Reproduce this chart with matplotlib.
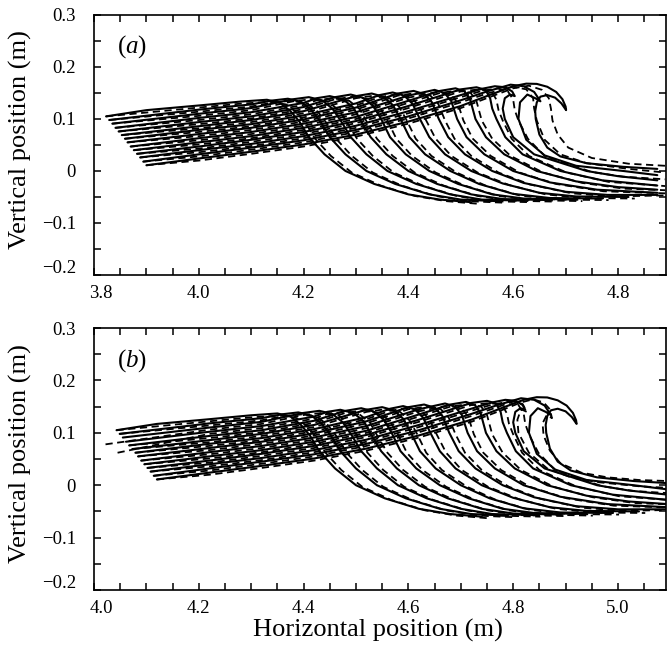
import matplotlib
matplotlib.use('Agg')
import matplotlib.pyplot as plt
import matplotlib.transforms as mtransforms
from matplotlib.ticker import MultipleLocator, FuncFormatter

plt.rcParams['font.family'] = ['Liberation Serif', 'DejaVu Serif']
plt.rcParams['mathtext.fontset'] = 'custom'
plt.rcParams['mathtext.rm'] = 'Liberation Serif'
plt.rcParams['mathtext.it'] = 'Liberation Serif:italic'

# ---- panel (a): free-surface profiles, solid lines (earliest first) ----
a_x = [
    [3.823, 3.90, 4.00, 4.08, 4.13, 4.155, 4.175, 4.192, 4.21, 4.24, 4.28, 4.335, 4.40, 4.46, 4.52],
    [3.829, 4.00, 4.10, 4.14, 4.17, 4.195, 4.215, 4.232, 4.25, 4.28, 4.32, 4.375, 4.44, 4.50, 4.57],
    [3.835, 4.00, 4.10, 4.18, 4.21, 4.235, 4.255, 4.272, 4.29, 4.32, 4.36, 4.415, 4.48, 4.54, 4.62],
    [3.841, 4.00, 4.10, 4.20, 4.225, 4.25, 4.275, 4.295, 4.31, 4.328, 4.358, 4.40, 4.455, 4.52, 4.58, 4.67],
    [3.847, 4.00, 4.10, 4.20, 4.26, 4.29, 4.313, 4.333, 4.348, 4.365, 4.395, 4.44, 4.495, 4.56, 4.62, 4.72],
    [3.853, 4.00, 4.10, 4.20, 4.30, 4.33, 4.352, 4.37, 4.385, 4.402, 4.432, 4.48, 4.535, 4.60, 4.67, 4.77],
    [3.859, 4.00, 4.10, 4.20, 4.30, 4.345, 4.37, 4.392, 4.408, 4.422, 4.44, 4.47, 4.52, 4.58, 4.65, 4.72, 4.82],
    [3.864, 4.00, 4.10, 4.20, 4.30, 4.38, 4.41, 4.43, 4.445, 4.458, 4.476, 4.508, 4.56, 4.62, 4.70, 4.78, 4.875],
    [3.870, 4.00, 4.10, 4.20, 4.30, 4.40, 4.45, 4.469, 4.482, 4.493, 4.511, 4.545, 4.60, 4.67, 4.76, 4.875],
    [3.876, 4.00, 4.10, 4.20, 4.30, 4.40, 4.46, 4.49, 4.507, 4.518, 4.528, 4.548, 4.583, 4.645, 4.72, 4.80, 4.875],
    [3.882, 4.00, 4.10, 4.20, 4.30, 4.40, 4.50, 4.53, 4.547, 4.556, 4.56, 4.568, 4.585, 4.618, 4.69, 4.77, 4.875],
    [3.888, 4.00, 4.10, 4.20, 4.30, 4.40, 4.50, 4.54, 4.565, 4.585, 4.598, 4.603, 4.594, 4.584, 4.58, 4.584, 4.60, 4.64, 4.74, 4.80, 4.875],
    [3.894, 4.00, 4.10, 4.20, 4.30, 4.40, 4.50, 4.55, 4.595, 4.62, 4.64, 4.652, 4.642, 4.627, 4.613, 4.61, 4.625, 4.66, 4.72, 4.81, 4.875],
    [3.900, 4.00, 4.10, 4.20, 4.30, 4.40, 4.50, 4.56, 4.60, 4.625, 4.645, 4.665, 4.682, 4.694, 4.700, 4.701, 4.692, 4.68, 4.665, 4.652, 4.645, 4.642, 4.643, 4.65, 4.665, 4.69, 4.74, 4.81, 4.875],
]
a_y = [
    [0.105, 0.117, 0.126, 0.1335, 0.137, 0.131, 0.115, 0.095, 0.065, 0.032, 0.0, -0.025, -0.045, -0.055, -0.060],
    [0.098, 0.118, 0.128, 0.1355, 0.139, 0.133, 0.117, 0.095, 0.065, 0.032, 0.0, -0.025, -0.045, -0.055, -0.058],
    [0.091, 0.110, 0.121, 0.138, 0.142, 0.136, 0.120, 0.095, 0.065, 0.032, 0.0, -0.025, -0.045, -0.055, -0.057],
    [0.083, 0.102, 0.113, 0.131, 0.140, 0.144, 0.138, 0.122, 0.095, 0.065, 0.032, 0.0, -0.025, -0.045, -0.054, -0.056],
    [0.076, 0.094, 0.105, 0.123, 0.142, 0.147, 0.141, 0.125, 0.10, 0.065, 0.032, 0.0, -0.025, -0.045, -0.053, -0.055],
    [0.069, 0.086, 0.098, 0.115, 0.144, 0.149, 0.143, 0.127, 0.10, 0.065, 0.032, 0.0, -0.025, -0.044, -0.052, -0.053],
    [0.062, 0.079, 0.090, 0.107, 0.130, 0.146, 0.151, 0.145, 0.129, 0.10, 0.065, 0.032, 0.0, -0.024, -0.042, -0.049, -0.050],
    [0.055, 0.071, 0.083, 0.099, 0.122, 0.149, 0.154, 0.148, 0.132, 0.10, 0.065, 0.032, 0.0, -0.023, -0.040, -0.046, -0.046],
    [0.047, 0.063, 0.075, 0.091, 0.113, 0.145, 0.156, 0.150, 0.134, 0.10, 0.065, 0.032, 0.0, -0.022, -0.036, -0.042],
    [0.040, 0.055, 0.067, 0.083, 0.104, 0.135, 0.154, 0.159, 0.153, 0.137, 0.10, 0.065, 0.032, 0.0, -0.020, -0.031, -0.036],
    [0.033, 0.047, 0.060, 0.075, 0.096, 0.125, 0.157, 0.161, 0.156, 0.14, 0.12, 0.10, 0.065, 0.032, 0.0, -0.018, -0.028],
    [0.026, 0.040, 0.052, 0.067, 0.087, 0.115, 0.146, 0.158, 0.163, 0.161, 0.153, 0.144, 0.147, 0.14, 0.12, 0.10, 0.065, 0.032, 0.0, -0.010, -0.018],
    [0.018, 0.032, 0.045, 0.059, 0.079, 0.105, 0.136, 0.153, 0.166, 0.163, 0.152, 0.134, 0.140, 0.147, 0.132, 0.10, 0.06, 0.03, 0.01, 0.0, -0.008],
    [0.011, 0.024, 0.037, 0.051, 0.070, 0.095, 0.125, 0.148, 0.163, 0.168, 0.1675, 0.162, 0.152, 0.138, 0.124, 0.117, 0.13, 0.141, 0.146, 0.143, 0.132, 0.115, 0.10, 0.07, 0.045, 0.028, 0.015, 0.008, 0.004],
]

# ---- panel (a): dashed lines ----
a_dx = [
    [3.823, 4.00, 4.08, 4.135, 4.167, 4.187, 4.204, 4.222, 4.252, 4.292, 4.347, 4.412, 4.472, 4.532],
    [3.829, 4.00, 4.10, 4.14, 4.175, 4.207, 4.227, 4.244, 4.262, 4.292, 4.332, 4.387, 4.452, 4.512, 4.582],
    [3.835, 4.00, 4.10, 4.18, 4.215, 4.247, 4.267, 4.284, 4.302, 4.332, 4.372, 4.427, 4.492, 4.552, 4.632],
    [3.841, 4.00, 4.10, 4.20, 4.225, 4.255, 4.287, 4.307, 4.322, 4.34, 4.37, 4.412, 4.467, 4.532, 4.592, 4.682],
    [3.847, 4.00, 4.10, 4.20, 4.26, 4.295, 4.325, 4.345, 4.36, 4.377, 4.407, 4.452, 4.507, 4.572, 4.632, 4.732],
    [3.853, 4.00, 4.10, 4.20, 4.30, 4.335, 4.364, 4.382, 4.397, 4.414, 4.444, 4.492, 4.547, 4.612, 4.682, 4.782],
    [3.859, 4.00, 4.10, 4.20, 4.30, 4.345, 4.375, 4.404, 4.42, 4.434, 4.452, 4.482, 4.532, 4.592, 4.662, 4.732, 4.832],
    [3.864, 4.00, 4.10, 4.20, 4.30, 4.38, 4.415, 4.442, 4.457, 4.47, 4.488, 4.52, 4.572, 4.632, 4.712, 4.792, 4.887],
    [3.870, 4.00, 4.10, 4.20, 4.30, 4.40, 4.455, 4.481, 4.494, 4.505, 4.523, 4.557, 4.612, 4.682, 4.772, 4.89],
    [3.876, 4.00, 4.10, 4.20, 4.30, 4.40, 4.46, 4.495, 4.519, 4.53, 4.54, 4.56, 4.595, 4.657, 4.732, 4.812, 4.89],
    [3.882, 4.00, 4.10, 4.20, 4.30, 4.40, 4.50, 4.535, 4.559, 4.568, 4.572, 4.58, 4.597, 4.63, 4.702, 4.782, 4.89],
    [3.888, 4.00, 4.10, 4.20, 4.30, 4.40, 4.50, 4.54, 4.57, 4.59, 4.60, 4.603, 4.61, 4.628, 4.66, 4.75, 4.81, 4.89],
    [3.894, 4.00, 4.10, 4.20, 4.30, 4.40, 4.50, 4.55, 4.60, 4.625, 4.638, 4.64, 4.645, 4.66, 4.69, 4.74, 4.82, 4.89],
    [3.900, 4.00, 4.10, 4.20, 4.30, 4.40, 4.50, 4.56, 4.60, 4.63, 4.655, 4.668, 4.672, 4.675, 4.685, 4.705, 4.75, 4.82, 4.89],
]
a_dy = [
    [0.105, 0.122, 0.1295, 0.133, 0.128, 0.112, 0.092, 0.062, 0.029, -0.003, -0.028, -0.048, -0.058, -0.063],
    [0.098, 0.114, 0.124, 0.1315, 0.135, 0.130, 0.114, 0.092, 0.062, 0.029, -0.003, -0.028, -0.048, -0.058, -0.061],
    [0.091, 0.106, 0.117, 0.134, 0.138, 0.133, 0.117, 0.092, 0.062, 0.029, -0.003, -0.028, -0.048, -0.058, -0.060],
    [0.083, 0.098, 0.109, 0.127, 0.136, 0.140, 0.135, 0.119, 0.092, 0.062, 0.029, -0.003, -0.028, -0.048, -0.057, -0.059],
    [0.076, 0.090, 0.101, 0.119, 0.138, 0.143, 0.138, 0.122, 0.097, 0.062, 0.029, -0.003, -0.028, -0.048, -0.056, -0.058],
    [0.069, 0.082, 0.094, 0.111, 0.140, 0.145, 0.140, 0.124, 0.097, 0.062, 0.029, -0.003, -0.028, -0.047, -0.055, -0.056],
    [0.062, 0.075, 0.086, 0.103, 0.126, 0.142, 0.147, 0.142, 0.126, 0.097, 0.062, 0.029, -0.003, -0.027, -0.045, -0.052, -0.053],
    [0.055, 0.067, 0.079, 0.095, 0.118, 0.145, 0.150, 0.145, 0.129, 0.097, 0.062, 0.029, -0.003, -0.026, -0.043, -0.049, -0.047],
    [0.047, 0.059, 0.071, 0.087, 0.109, 0.141, 0.152, 0.147, 0.131, 0.097, 0.062, 0.029, -0.003, -0.025, -0.039, -0.043],
    [0.040, 0.051, 0.063, 0.079, 0.100, 0.131, 0.150, 0.155, 0.150, 0.134, 0.097, 0.062, 0.029, -0.003, -0.023, -0.034, -0.037],
    [0.033, 0.043, 0.056, 0.071, 0.092, 0.121, 0.153, 0.157, 0.153, 0.137, 0.117, 0.097, 0.062, 0.029, -0.003, -0.021, -0.029],
    [0.026, 0.036, 0.048, 0.063, 0.083, 0.111, 0.142, 0.154, 0.159, 0.153, 0.137, 0.117, 0.097, 0.062, 0.029, -0.002, -0.011, -0.016],
    [0.018, 0.028, 0.041, 0.055, 0.075, 0.101, 0.132, 0.149, 0.162, 0.157, 0.140, 0.12, 0.097, 0.06, 0.032, 0.015, 0.004, -0.003],
    [0.011, 0.020, 0.033, 0.047, 0.066, 0.091, 0.121, 0.144, 0.159, 0.164, 0.156, 0.14, 0.12, 0.097, 0.07, 0.045, 0.025, 0.014, 0.010],
]

# ---- panel (b): solid lines (vertical positions read as in panel a) ----
b_x = [
    [4.043, 4.12, 4.22, 4.30, 4.35, 4.375, 4.395, 4.412, 4.43, 4.46, 4.50, 4.555, 4.62, 4.68, 4.74],
    [4.049, 4.22, 4.32, 4.36, 4.39, 4.415, 4.435, 4.452, 4.47, 4.50, 4.54, 4.595, 4.66, 4.72, 4.79],
    [4.055, 4.22, 4.32, 4.40, 4.43, 4.455, 4.475, 4.492, 4.51, 4.54, 4.58, 4.635, 4.70, 4.76, 4.84],
    [4.061, 4.22, 4.32, 4.42, 4.445, 4.47, 4.495, 4.515, 4.53, 4.548, 4.578, 4.62, 4.675, 4.74, 4.80, 4.89],
    [4.067, 4.22, 4.32, 4.42, 4.48, 4.51, 4.533, 4.553, 4.568, 4.585, 4.615, 4.66, 4.715, 4.78, 4.84, 4.94],
    [4.073, 4.22, 4.32, 4.42, 4.52, 4.55, 4.572, 4.59, 4.605, 4.622, 4.652, 4.70, 4.755, 4.82, 4.89, 4.99],
    [4.079, 4.22, 4.32, 4.42, 4.52, 4.565, 4.59, 4.612, 4.628, 4.642, 4.66, 4.69, 4.74, 4.80, 4.87, 4.94, 5.04],
    [4.084, 4.22, 4.32, 4.42, 4.52, 4.60, 4.63, 4.65, 4.665, 4.678, 4.696, 4.728, 4.78, 4.84, 4.92, 5.00, 5.095],
    [4.090, 4.22, 4.32, 4.42, 4.52, 4.62, 4.67, 4.689, 4.702, 4.713, 4.731, 4.765, 4.82, 4.89, 4.98, 5.095],
    [4.096, 4.22, 4.32, 4.42, 4.52, 4.62, 4.68, 4.71, 4.727, 4.738, 4.748, 4.768, 4.803, 4.865, 4.94, 5.02, 5.095],
    [4.102, 4.22, 4.32, 4.42, 4.52, 4.62, 4.72, 4.75, 4.767, 4.776, 4.78, 4.788, 4.805, 4.838, 4.91, 4.99, 5.095],
    [4.108, 4.22, 4.32, 4.42, 4.52, 4.62, 4.72, 4.76, 4.785, 4.805, 4.818, 4.823, 4.814, 4.804, 4.80, 4.804, 4.82, 4.86, 4.96, 5.02, 5.095],
    [4.114, 4.22, 4.32, 4.42, 4.52, 4.62, 4.72, 4.77, 4.815, 4.84, 4.86, 4.872, 4.862, 4.847, 4.833, 4.83, 4.845, 4.88, 4.94, 5.03, 5.095],
    [4.120, 4.22, 4.32, 4.42, 4.52, 4.62, 4.72, 4.78, 4.82, 4.845, 4.865, 4.885, 4.902, 4.914, 4.920, 4.921, 4.912, 4.90, 4.885, 4.872, 4.865, 4.862, 4.863, 4.87, 4.885, 4.91, 4.96, 5.03, 5.095],
]
b_y = a_y

# ---- panel (b): dashed lines ----
b_dx = [
    [4.043, 4.22, 4.30, 4.355, 4.387, 4.407, 4.424, 4.442, 4.472, 4.512, 4.567, 4.632, 4.692, 4.752],
    [4.049, 4.22, 4.32, 4.36, 4.395, 4.427, 4.447, 4.464, 4.482, 4.512, 4.552, 4.607, 4.672, 4.732, 4.802],
    [4.022, 4.22, 4.32, 4.40, 4.435, 4.467, 4.487, 4.504, 4.522, 4.552, 4.592, 4.647, 4.712, 4.772, 4.852],
    [4.045, 4.22, 4.32, 4.42, 4.445, 4.475, 4.507, 4.527, 4.542, 4.56, 4.59, 4.632, 4.687, 4.752, 4.812, 4.902],
    [4.067, 4.22, 4.32, 4.42, 4.48, 4.515, 4.545, 4.565, 4.58, 4.597, 4.627, 4.672, 4.727, 4.792, 4.852, 4.952],
    [4.073, 4.22, 4.32, 4.42, 4.52, 4.555, 4.584, 4.602, 4.617, 4.634, 4.664, 4.712, 4.767, 4.832, 4.902, 5.002],
    [4.079, 4.22, 4.32, 4.42, 4.52, 4.565, 4.595, 4.624, 4.64, 4.654, 4.672, 4.702, 4.752, 4.812, 4.882, 4.952, 5.052],
    [4.084, 4.22, 4.32, 4.42, 4.52, 4.60, 4.635, 4.662, 4.677, 4.69, 4.708, 4.74, 4.792, 4.852, 4.932, 5.012, 5.107],
    [4.090, 4.22, 4.32, 4.42, 4.52, 4.62, 4.675, 4.701, 4.714, 4.725, 4.743, 4.777, 4.832, 4.902, 4.992, 5.11],
    [4.096, 4.22, 4.32, 4.42, 4.52, 4.62, 4.68, 4.715, 4.739, 4.75, 4.76, 4.78, 4.815, 4.877, 4.952, 5.032, 5.11],
    [4.102, 4.22, 4.32, 4.42, 4.52, 4.62, 4.72, 4.755, 4.779, 4.788, 4.792, 4.80, 4.817, 4.85, 4.922, 5.002, 5.11],
    [4.108, 4.22, 4.32, 4.42, 4.52, 4.62, 4.72, 4.76, 4.79, 4.81, 4.82, 4.823, 4.83, 4.848, 4.88, 4.97, 5.03, 5.11],
    [4.114, 4.22, 4.32, 4.42, 4.52, 4.62, 4.72, 4.77, 4.80, 4.818, 4.826, 4.815, 4.808, 4.81, 4.83, 4.865, 4.91, 4.96, 5.04, 5.095],
    [4.120, 4.22, 4.32, 4.42, 4.52, 4.62, 4.72, 4.78, 4.815, 4.838, 4.858, 4.87, 4.874, 4.864, 4.856, 4.858, 4.87, 4.89, 4.93, 4.98, 5.04, 5.095],
]
b_dy = [
    [0.105, 0.122, 0.1295, 0.133, 0.128, 0.112, 0.092, 0.062, 0.029, -0.003, -0.028, -0.048, -0.058, -0.063],
    [0.098, 0.114, 0.124, 0.1315, 0.135, 0.130, 0.114, 0.092, 0.062, 0.029, -0.003, -0.028, -0.048, -0.058, -0.061],
    [0.078, 0.106, 0.117, 0.134, 0.138, 0.133, 0.117, 0.092, 0.062, 0.029, -0.003, -0.028, -0.048, -0.058, -0.060],
    [0.062, 0.098, 0.109, 0.127, 0.136, 0.140, 0.135, 0.119, 0.092, 0.062, 0.029, -0.003, -0.028, -0.048, -0.057, -0.059],
    [0.076, 0.090, 0.101, 0.119, 0.138, 0.143, 0.138, 0.122, 0.097, 0.062, 0.029, -0.003, -0.028, -0.048, -0.056, -0.058],
    [0.069, 0.082, 0.094, 0.111, 0.140, 0.145, 0.140, 0.124, 0.097, 0.062, 0.029, -0.003, -0.028, -0.047, -0.055, -0.056],
    [0.062, 0.075, 0.086, 0.103, 0.126, 0.142, 0.147, 0.142, 0.126, 0.097, 0.062, 0.029, -0.003, -0.027, -0.045, -0.052, -0.053],
    [0.055, 0.067, 0.079, 0.095, 0.118, 0.145, 0.150, 0.145, 0.129, 0.097, 0.062, 0.029, -0.003, -0.026, -0.043, -0.049, -0.047],
    [0.047, 0.059, 0.071, 0.087, 0.109, 0.141, 0.152, 0.147, 0.131, 0.097, 0.062, 0.029, -0.003, -0.025, -0.039, -0.043],
    [0.040, 0.051, 0.063, 0.079, 0.100, 0.131, 0.150, 0.155, 0.150, 0.134, 0.097, 0.062, 0.029, -0.003, -0.023, -0.034, -0.037],
    [0.033, 0.043, 0.056, 0.071, 0.092, 0.121, 0.153, 0.157, 0.153, 0.137, 0.117, 0.097, 0.062, 0.029, -0.003, -0.021, -0.029],
    [0.026, 0.036, 0.048, 0.063, 0.083, 0.111, 0.142, 0.154, 0.159, 0.153, 0.137, 0.117, 0.097, 0.062, 0.029, -0.002, -0.011, -0.016],
    [0.018, 0.028, 0.041, 0.055, 0.075, 0.101, 0.132, 0.149, 0.160, 0.155, 0.140, 0.145, 0.125, 0.10, 0.062, 0.032, 0.015, 0.006, -0.002, -0.005],
    [0.011, 0.020, 0.033, 0.047, 0.066, 0.091, 0.121, 0.144, 0.158, 0.164, 0.158, 0.145, 0.128, 0.134, 0.118, 0.095, 0.066, 0.042, 0.024, 0.015, 0.010, 0.008],
]


def fmt(v, pos):
    if abs(v) < 1e-9:
        return '0'
    return ('%.1f' % v).replace('-', '\u2212')


fig = plt.figure(figsize=(6.68, 6.55), dpi=100)
ax_a = fig.add_axes([0.1407, 0.5802, 0.8563, 0.3969])
ax_b = fig.add_axes([0.1407, 0.0992, 0.8563, 0.4000])

panels = [
    (ax_a, a_x, a_y, a_dx, a_dy, 3.8, 'a'),
    (ax_b, b_x, b_y, b_dx, b_dy, 4.0, 'b'),
]
for ax, sx, sy, dx, dy, x0, letter in panels:
    for xs, ys in zip(sx, sy):
        ax.plot(xs, ys, color='black', lw=1.5,
                solid_capstyle='round', solid_joinstyle='round')
    for xs, ys in zip(dx, dy):
        ax.plot(xs, ys, color='black', lw=1.3, dashes=(4, 2.5))
    ax.set_xlim(x0, x0 + 1.0916)
    ax.set_ylim(-0.2, 0.3)
    ax.xaxis.set_major_locator(MultipleLocator(0.2))
    ax.xaxis.set_minor_locator(MultipleLocator(0.05))
    ax.yaxis.set_major_locator(MultipleLocator(0.1))
    ax.yaxis.set_minor_locator(MultipleLocator(0.05))
    ax.xaxis.set_major_formatter(FuncFormatter(fmt))
    ax.yaxis.set_major_formatter(FuncFormatter(fmt))
    ax.tick_params(which='both', direction='in', top=True, right=True,
                   length=5, width=1.1, labelsize=13.5)
    ax.tick_params(axis='x', pad=7)
    ax.tick_params(axis='y', pad=13)
    for s in ax.spines.values():
        s.set_linewidth(1.2)
    ax.set_ylabel('Vertical position (m)', fontsize=19)
    ax.yaxis.set_label_coords(-0.108, 0.52)
    ax.text(0.040, 0.877, r'$(\mathit{%s})$' % letter, transform=ax.transAxes,
            fontsize=18, va='center', ha='left')

ax_b.set_xlabel('Horizontal position (m)', fontsize=19)
ax_b.xaxis.set_label_coords(0.497, -0.112)

# nudge the corner tick labels as in the original figure
fig.canvas.draw()
for ax, x0 in [(ax_a, 3.8), (ax_b, 4.0)]:
    for t in ax.xaxis.get_major_ticks():
        if abs(t.get_loc() - x0) < 1e-6:
            t.label1.set_transform(t.label1.get_transform() + mtransforms.ScaledTranslation(
                5 / 72, 0, fig.dpi_scale_trans))
    for t in ax.yaxis.get_major_ticks():
        if abs(t.get_loc() + 0.2) < 1e-6:
            t.label1.set_transform(t.label1.get_transform() + mtransforms.ScaledTranslation(
                0, 6 / 72, fig.dpi_scale_trans))

fig.savefig('out.png', dpi=100)
